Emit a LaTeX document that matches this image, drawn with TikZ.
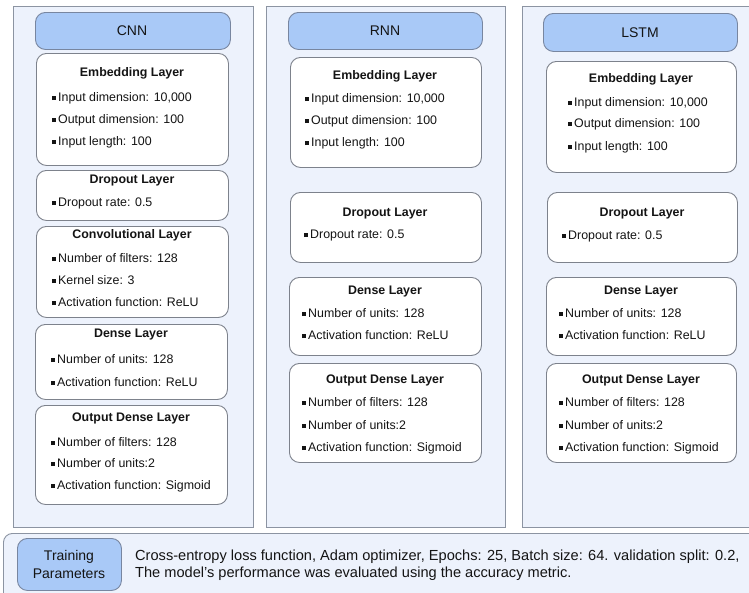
\documentclass[tikz,border=0pt]{standalone}
\usepackage{fontspec}
\setmainfont{Liberation Sans}
\definecolor{panelfill}{RGB}{237,242,252}
\definecolor{panelborder}{RGB}{140,148,162}
\definecolor{headfill}{RGB}{169,201,247}
\definecolor{headborder}{RGB}{120,134,160}
\definecolor{layerborder}{RGB}{125,130,140}
\definecolor{txt}{RGB}{20,20,20}
\newcommand{\bul}{\raisebox{1.3pt}{\rule{3.8pt}{3.8pt}}\hspace{2.2pt}}
\tikzset{
  panel/.style={draw=panelborder, fill=panelfill, line width=0.9pt},
  header/.style={draw=headborder, fill=headfill, rounded corners=10pt, line width=0.9pt, anchor=north west},
  layer/.style={draw=layerborder, fill=white, rounded corners=10pt, line width=0.9pt, anchor=north west},
  lhead/.style={font=\bfseries\fontsize{12.4}{14}\selectfont, text=txt, inner sep=0pt, anchor=base},
  item/.style={font=\fontsize{12.4}{14}\selectfont, text=txt, inner sep=0pt, anchor=base west},
  htext/.style={font=\fontsize{14}{16}\selectfont, text=txt, inner sep=0pt, anchor=base},
  desc/.style={font=\fontsize{14.6}{16}\selectfont, text=txt, inner sep=0pt, anchor=base west},
}
\begin{document}
\begin{tikzpicture}[x=1pt,y=-1pt]
\useasboundingbox (0,0) rectangle (749,592);
\fill[white] (0,0) rectangle (749,592);
\begin{scope}
\clip (0,0) rectangle (749,592);
% panels
\node[panel, anchor=north west, minimum width=240pt, minimum height=521pt, inner sep=0pt] (cnnP) at (13,6) {};
\node[panel, anchor=north west, minimum width=239pt, minimum height=521pt, inner sep=0pt] (rnnP) at (266,6) {};
\node[panel, anchor=north west, minimum width=240pt, minimum height=521pt, inner sep=0pt] (lstmP) at (522,6) {};
\node[panel, rounded corners=9pt, anchor=north west, minimum width=760pt, minimum height=70pt, inner sep=0pt] (trainP) at (3,533) {};

% headers
\node[header, minimum width=195pt, minimum height=37pt, inner sep=0pt] (cnnH) at (35,12) {};
\node[htext] (cnnHt) at (132,30.5+5) {CNN};
\node[header, minimum width=194pt, minimum height=37pt, inner sep=0pt] (rnnH) at (288,12) {};
\node[htext] (rnnHt) at (385,30.5+5) {RNN};
\node[header, minimum width=194pt, minimum height=38pt, inner sep=0pt] (lstmH) at (543,13) {};
\node[htext] (lstmHt) at (640,32+5) {LSTM};

% ---------- CNN ----------
\node[layer, minimum width=192pt, minimum height=112pt, inner sep=0pt] (cE) at (36,53) {};
\node[lhead] (cEh) at (132,72+4.4) {Embedding Layer};
\node[item] (cE1) at (52,97+4.4) {\bul Input dimension: 10,000};
\node[item] (cE2) at (52,119+4.4) {\bul Output dimension: 100};
\node[item] (cE3) at (52,141+4.4) {\bul Input length: 100};

\node[layer, minimum width=192pt, minimum height=50pt, inner sep=0pt] (cD) at (36,170) {};
\node[lhead] (cDh) at (132,179+4.4) {Dropout Layer};
\node[item] (cD1) at (52,202+4.4) {\bul Dropout rate: 0.5};

\node[layer, minimum width=192pt, minimum height=91pt, inner sep=0pt] (cC) at (36,226) {};
\node[lhead] (cCh) at (132,234+4.4) {Convolutional Layer};
\node[item] (cC1) at (52,258+4.4) {\bul Number of filters: 128};
\node[item] (cC2) at (52,280+4.4) {\bul Kernel size: 3};
\node[item] (cC3) at (52,302+4.4) {\bul Activation function: ReLU};

\node[layer, minimum width=192pt, minimum height=75pt, inner sep=0pt] (cN) at (35,324) {};
\node[lhead] (cNh) at (131,333+4.4) {Dense Layer};
\node[item] (cN1) at (51,359+4.4) {\bul Number of units: 128};
\node[item] (cN2) at (51,382+4.4) {\bul Activation function: ReLU};

\node[layer, minimum width=192pt, minimum height=99pt, inner sep=0pt] (cO) at (35,405) {};
\node[lhead] (cOh) at (131,417+4.4) {Output Dense Layer};
\node[item] (cO1) at (51,442+4.4) {\bul Number of filters: 128};
\node[item] (cO2) at (51,463+4.4) {\bul Number of units:2};
\node[item] (cO3) at (51,485+4.4) {\bul Activation function: Sigmoid};

% ---------- RNN ----------
\node[layer, minimum width=191pt, minimum height=110pt, inner sep=0pt] (rE) at (290,57) {};
\node[lhead] (rEh) at (385,75+4.4) {Embedding Layer};
\node[item] (rE1) at (305,98+4.4) {\bul Input dimension: 10,000};
\node[item] (rE2) at (305,120+4.4) {\bul Output dimension: 100};
\node[item] (rE3) at (305,142+4.4) {\bul Input length: 100};

\node[layer, minimum width=191pt, minimum height=70pt, inner sep=0pt] (rD) at (290,192) {};
\node[lhead] (rDh) at (385,212+4.4) {Dropout Layer};
\node[item] (rD1) at (304,234+4.4) {\bul Dropout rate: 0.5};

\node[layer, minimum width=192pt, minimum height=78pt, inner sep=0pt] (rN) at (289,277) {};
\node[lhead] (rNh) at (385,290+4.4) {Dense Layer};
\node[item] (rN1) at (302,313+4.4) {\bul Number of units: 128};
\node[item] (rN2) at (302,335+4.4) {\bul Activation function: ReLU};

\node[layer, minimum width=192pt, minimum height=99pt, inner sep=0pt] (rO) at (289,363) {};
\node[lhead] (rOh) at (385,379+4.4) {Output Dense Layer};
\node[item] (rO1) at (302,402+4.4) {\bul Number of filters: 128};
\node[item] (rO2) at (302,425+4.4) {\bul Number of units:2};
\node[item] (rO3) at (302,447+4.4) {\bul Activation function: Sigmoid};

% ---------- LSTM ----------
\node[layer, minimum width=190pt, minimum height=111pt, inner sep=0pt] (lE) at (546,61) {};
\node[lhead] (lEh) at (641,78+4.4) {Embedding Layer};
\node[item] (lE1) at (568,102+4.4) {\bul Input dimension: 10,000};
\node[item] (lE2) at (568,123+4.4) {\bul Output dimension: 100};
\node[item] (lE3) at (568,146+4.4) {\bul Input length: 100};

\node[layer, minimum width=190pt, minimum height=70pt, inner sep=0pt] (lD) at (547,192) {};
\node[lhead] (lDh) at (642,212+4.4) {Dropout Layer};
\node[item] (lD1) at (562,235+4.4) {\bul Dropout rate: 0.5};

\node[layer, minimum width=190pt, minimum height=78pt, inner sep=0pt] (lN) at (546,277) {};
\node[lhead] (lNh) at (641,290+4.4) {Dense Layer};
\node[item] (lN1) at (559,313+4.4) {\bul Number of units: 128};
\node[item] (lN2) at (559,335+4.4) {\bul Activation function: ReLU};

\node[layer, minimum width=190pt, minimum height=99pt, inner sep=0pt] (lO) at (546,363) {};
\node[lhead] (lOh) at (641,379+4.4) {Output Dense Layer};
\node[item] (lO1) at (559,402+4.4) {\bul Number of filters: 128};
\node[item] (lO2) at (559,425+4.4) {\bul Number of units:2};
\node[item] (lO3) at (559,447+4.4) {\bul Activation function: Sigmoid};

% ---------- Training ----------
\node[header, minimum width=104pt, minimum height=52pt, inner sep=0pt] (tH) at (17,538) {};
\node[htext] (tH1) at (69,555+5) {Training};
\node[htext] (tH2) at (69,573+5) {Parameters};
\node[desc] (tD1) at (135,555+5) {Cross-entropy loss function, Adam optimizer, Epochs: 25, Batch size: 64. validation split: 0.2,};
\node[desc] (tD2) at (135,572+5) {The model{\char"27}s performance was evaluated using the accuracy metric.};
\end{scope}
\end{tikzpicture}
\end{document}
